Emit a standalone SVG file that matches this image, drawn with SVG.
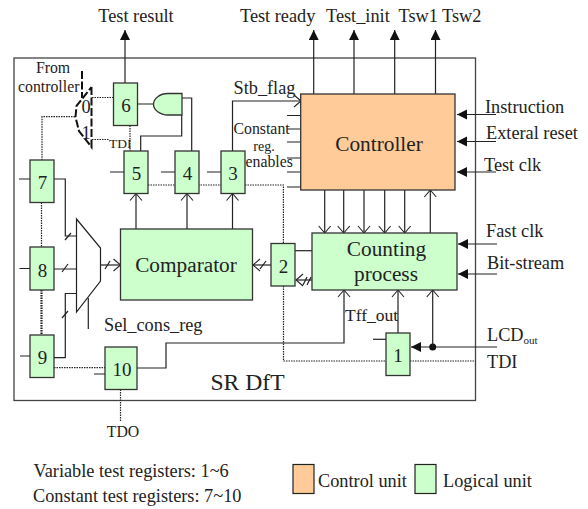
<svg xmlns="http://www.w3.org/2000/svg" width="588" height="509" viewBox="0 0 588 509">
<style>
text{font-family:"Liberation Serif","Times New Roman",serif;fill:#222}
.t{font-size:18.3px}.x{font-size:15.8px}.n{font-size:19px;text-anchor:middle}.h{font-size:21.300px;text-anchor:middle}
.b{fill:#ccffcc;stroke:#333;stroke-width:1.3}
.l{fill:none;stroke:#222;stroke-width:1.2}
.a{fill:none;stroke:#222;stroke-width:1.2;marker-end:url(#solid)}
.o{fill:none;stroke:#222;stroke-width:1.2;marker-end:url(#open)}
.d{fill:none;stroke:#222;stroke-width:1.2;stroke-dasharray:1.5 1}
.m{fill:none;stroke:#111;stroke-width:2;stroke-dasharray:8 2.500}
</style>
<defs>
<marker id="solid" markerUnits="userSpaceOnUse" markerWidth="11" markerHeight="11" refX="10" refY="5" orient="auto"><path d="M0 0L10 5L0 10Z" fill="#111"/></marker>
<marker id="open" markerUnits="userSpaceOnUse" markerWidth="10" markerHeight="14" refX="8" refY="7" orient="auto"><path d="M1 1L8 7L1 13" fill="none" stroke="#222" stroke-width="1.100"/></marker>
</defs>
<rect x="14" y="58" width="461.500" height="342.500" fill="none" stroke="#444" stroke-width="1.300"/>
<g id="connectors">
<path class="a" d="M125 83V30"/><path class="a" d="M313.700 94V30"/><path class="a" d="M354 94V30"/><path class="a" d="M394.700 94V30"/><path class="a" d="M435.500 94V30"/>
<path class="a" d="M496 114.500H457"/><path class="a" d="M496 141.500H457"/><path class="a" d="M496 172H457"/><path class="a" d="M497 244H458"/><path class="a" d="M497 274H458"/><path class="a" d="M497 347H411"/>
<circle cx="432.700" cy="347" r="3.500" fill="#111"/>
<path class="o" d="M432.700 347V290"/><path class="o" d="M398 333V290"/><path class="o" d="M137 368H166V343H344V290"/>
<path class="o" d="M324.700 190V233"/><path class="o" d="M343.700 190V233"/><path class="o" d="M364 190V233"/><path class="o" d="M384.700 190V233"/><path class="o" d="M404.700 190V233"/><path class="o" d="M430.300 233V190"/>
<path class="o" d="M136 229V193.500"/><path class="o" d="M187 229V193.500"/><path class="o" d="M232.500 229V193.500"/><path class="o" d="M232.500 151V101H301"/>
<path class="l" d="M287 115.500H301M287 129H301M287 142H301M287 158H301M287 172H301M287 187H301"/>
<path class="l" d="M138 104H153.500M191.700 151V98H182M140.700 151V136H181.700V115"/>
<path class="l" d="M110 172H124M161 172H175M207 172H221"/>
<path class="l" d="M19 179H30M54 179H65.300V236H76.500M19.500 268.500H30M54 269H76.500M20 356H30M54 357.700H65.300V293.500H76.500M94 374H105"/>
<path class="l" d="M65 240L71 233M62 272L68 264M62 318L68 311"/>
<path class="l" d="M88.300 298V329"/>
<path class="o" d="M100.500 265H120.500"/>
<path class="l" d="M105 269L110 261"/>
<path class="o" d="M271 265H253"/>
<path class="l" d="M260 269L266 261"/>
<path class="l" d="M295 250.700H312"/>
<path class="o" d="M312 280H296"/>
<path class="l" d="M303 285L307 277M307 285L311 277"/>
<path class="l" d="M373 339.300H386"/>
<path class="d" d="M92 97.500H113.500M92 139.500H109M130 125.500V151"/>
<path class="d" d="M75 116.700H42V160M41.500 202.500V247M41 290V335M42 290V335"/>
<path class="d" d="M148 185H221M245 185H283.400V243.500"/>
<path class="d" d="M54 367.700H105M120.500 389.500V422"/>
<path class="d" d="M283.500 286V361H386M410 361H476"/>
<path class="m" d="M82 71V98M91.500 87V147L79 131L75.500 117L76.500 106L91.500 87"/>
</g>
<g id="mux"><path d="M76.500 219L100.500 248V281L76.500 312Z" fill="#fff" stroke="#222" stroke-width="1.200"/></g>
<g id="and"><path class="b" d="M182 93.500V115H168C160 115 153.500 110 153.500 104.200S160 93.500 168 93.500Z"/></g>
<g id="controller"><rect x="300.700" y="94" width="154.300" height="96" fill="#ffcc99" stroke="#333" stroke-width="1.300"/><text class="h" x="379" y="150.500">Controller</text></g>
<g id="comparator"><rect class="b" x="120.500" y="229" width="132" height="71"/><text class="h" x="186" y="272">Comparator</text></g>
<g id="counting"><rect class="b" x="312" y="233" width="145" height="57"/><text class="h" x="386.500" y="256">Counting</text><text class="h" x="386" y="280.500">process</text></g>
<g id="n1"><rect class="b" x="386" y="333" width="24" height="42.500"/><text class="n" x="398" y="362">1</text></g>
<g id="n2"><rect class="b" x="271" y="243.500" width="24" height="42.500"/><text class="n" x="283.500" y="273">2</text></g>
<g id="n3"><rect class="b" x="221" y="151" width="24" height="42.500"/><text class="n" x="233" y="180">3</text></g>
<g id="n4"><rect class="b" x="175" y="151" width="24" height="42.500"/><text class="n" x="187.500" y="180">4</text></g>
<g id="n5"><rect class="b" x="124" y="151" width="24" height="42.500"/><text class="n" x="136.500" y="180">5</text></g>
<g id="n6"><rect class="b" x="113.500" y="83" width="24" height="42.500"/><text class="n" x="126" y="112">6</text></g>
<g id="n7"><rect class="b" x="30" y="160" width="24" height="42.500"/><text class="n" x="42.500" y="189">7</text></g>
<g id="n8"><rect class="b" x="30" y="247" width="24" height="43"/><text class="n" x="42.500" y="277">8</text></g>
<g id="n9"><rect class="b" x="30" y="335" width="24" height="42.500"/><text class="n" x="42.500" y="364">9</text></g>
<g id="n10"><rect class="b" x="105" y="347" width="32" height="42.500"/><text class="n" x="122" y="376">10</text></g>
<g id="labels">
<text class="t" x="136" y="22" text-anchor="middle">Test result</text>
<text class="t" x="240" y="22">Test ready</text>
<text class="t" x="326" y="22">Test_init</text>
<text class="t" x="398.500" y="22">Tsw1</text>
<text class="t" x="442" y="22">Tsw2</text>
<text class="x" x="53" y="73" text-anchor="middle">From</text>
<text class="x" x="18" y="92">controller</text>
<text class="t" x="86" y="113" text-anchor="middle">0</text>
<text class="t" x="86" y="139" text-anchor="middle">1</text>
<text class="x" x="109" y="148" style="font-size:13.500px">TDI</text>
<text class="t" x="233.500" y="94">Stb_flag</text>
<text class="x" x="233.500" y="134">Constant</text>
<text class="x" x="264" y="150.500" text-anchor="middle" style="font-size:14px">reg.</text>
<text class="x" x="245.500" y="167">enables</text>
<text class="t" x="485" y="113">Instruction</text>
<text class="t" x="486" y="139">Exteral reset</text>
<text class="t" x="484" y="170.500">Test clk</text>
<text class="t" x="486" y="237">Fast clk</text>
<text class="t" x="487" y="268.500">Bit-stream</text>
<text class="t" x="104" y="331">Sel_cons_reg</text>
<text class="t" x="345" y="321" style="font-size:17.500px">Tff_out</text>
<text class="t" x="487" y="341">LCD<tspan font-size="11" dy="3">out</tspan></text>
<text class="t" x="487" y="368">TDI</text>
<text x="210.500" y="390" font-size="23.600">SR DfT</text>
<text class="x" x="123" y="437" text-anchor="middle">TDO</text>
<text class="t" x="33.500" y="477">Variable test registers: 1~6</text>
<text class="t" x="33" y="502">Constant test registers: 7~10</text>
<text class="t" x="318" y="487">Control unit</text>
<text class="t" x="443" y="487">Logical unit</text>
</g>
<g id="legend">
<rect x="293" y="464.500" width="21" height="29" fill="#ffcc99" stroke="#222" stroke-width="1.200"/>
<rect x="415" y="464.500" width="21" height="29" fill="#ccffcc" stroke="#222" stroke-width="1.200"/>
</g>
</svg>
